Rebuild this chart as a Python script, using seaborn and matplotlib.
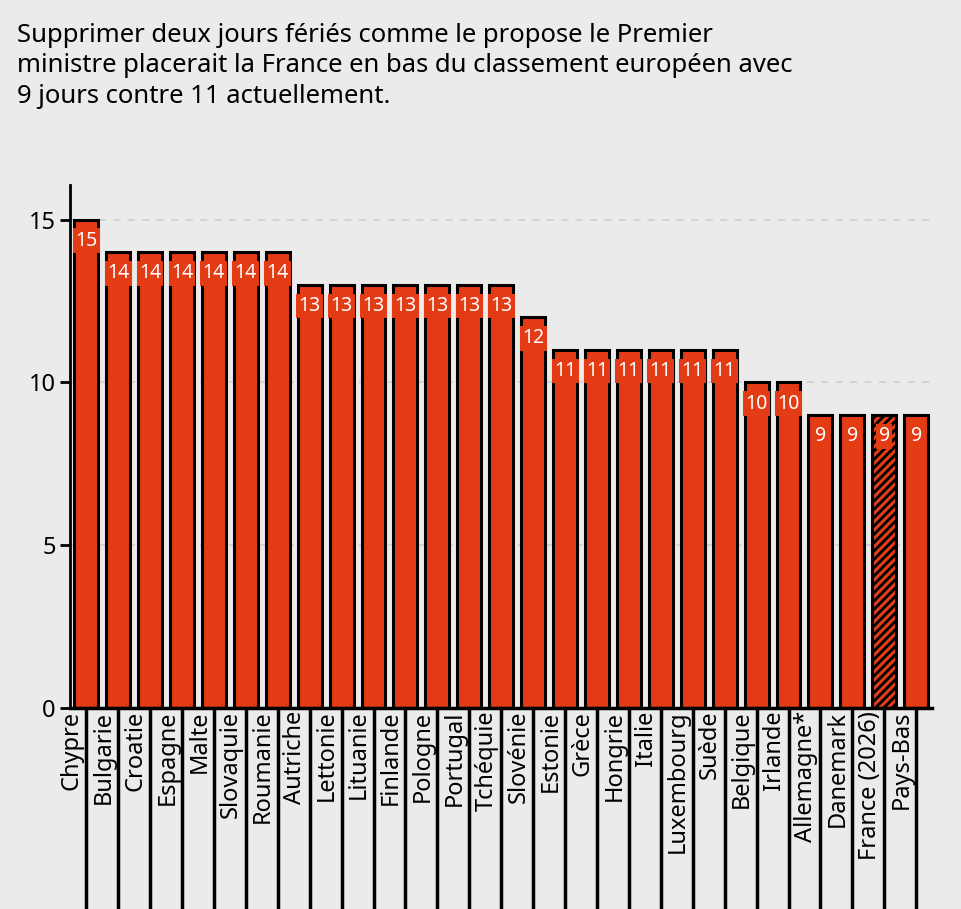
import matplotlib
matplotlib.use("Agg")
import matplotlib.pyplot as plt
import matplotlib.transforms as mtransforms
import pandas as pd
import seaborn as sns

plt.rcParams["font.family"] = "Noto Sans"
plt.rcParams["hatch.color"] = "#f6c9b8"
plt.rcParams["hatch.linewidth"] = 2.0

# ── Data ───────────────────────────────────────────────────────────────────
COUNTRIES = ["Chypre", "Bulgarie", "Croatie", "Espagne", "Malte", "Slovaquie",
             "Roumanie", "Autriche", "Lettonie", "Lituanie", "Finlande", "Pologne",
             "Portugal", "Tchéquie", "Slovénie", "Estonie", "Grèce", "Hongrie",
             "Italie", "Luxembourg", "Suède", "Belgique", "Irlande", "Allemagne*",
             "Danemark", "France (2026)", "Pays-Bas"]
JOURS = [15, 14, 14, 14, 14, 14, 14, 13, 13, 13, 13, 13, 13, 13, 12,
         11, 11, 11, 11, 11, 11, 10, 10, 9, 9, 9, 9]
HIGHLIGHT = "France (2026)"
Y_TICKS = [0, 5, 10, 15]

TITLE = ("Supprimer deux jours fériés comme le propose le Premier\n"
         "ministre placerait la France en bas du classement européen avec\n"
         "9 jours contre 11 actuellement.")

RED = "#e33b14"
BG = "#ebebeb"

df = pd.DataFrame({"pays": COUNTRIES, "jours": JOURS})

fig = plt.figure(figsize=(9.62, 9.09), dpi=100, facecolor=BG)
ax = fig.add_axes([0.073, 0.221, 0.896, 0.575], facecolor=BG)

sns.barplot(data=df, x="pays", y="jours", color=RED, width=0.75,
            edgecolor="black", linewidth=2.2, saturation=1, ax=ax)

for patch, name in zip(ax.patches, COUNTRIES):
    if name == HIGHLIGHT:
        patch.set_hatch("////")

ax.set_ylim(0, 16.05)
ax.set_xlim(-0.5, len(COUNTRIES) - 0.5)
ax.set_yticks(Y_TICKS)
ax.yaxis.grid(True, linestyle=(0, (4, 4)), color="#d2d2d2", linewidth=1.3)
ax.set_axisbelow(True)
for side in ["top", "right"]:
    ax.spines[side].set_visible(False)
ax.spines["left"].set_linewidth(2)
ax.spines["bottom"].set_linewidth(2.5)
ax.set_xlabel("")
ax.set_ylabel("")
ax.tick_params(axis="y", labelsize=17, width=2, length=7)
ax.tick_params(axis="x", length=178, width=2.5, labelbottom=False)

# x labels beside the long ticks
trans = mtransforms.blended_transform_factory(ax.transData, ax.transAxes)
for i, name in enumerate(COUNTRIES):
    ax.text(i - 0.08, -0.005, name, rotation=90, ha="right", va="top",
            fontsize=17, transform=trans)

# value labels
for i, v in enumerate(JOURS):
    ax.text(i, v - 0.65, str(v), ha="center", va="center", color="white",
            fontsize=14, fontweight="bold",
            bbox=dict(boxstyle="square,pad=0.12", facecolor=RED, edgecolor="none"))

fig.text(0.018, 0.975, TITLE, ha="left", va="top", fontsize=18.5, linespacing=1.3)

fig.savefig("out.png", dpi=100, facecolor=BG)
